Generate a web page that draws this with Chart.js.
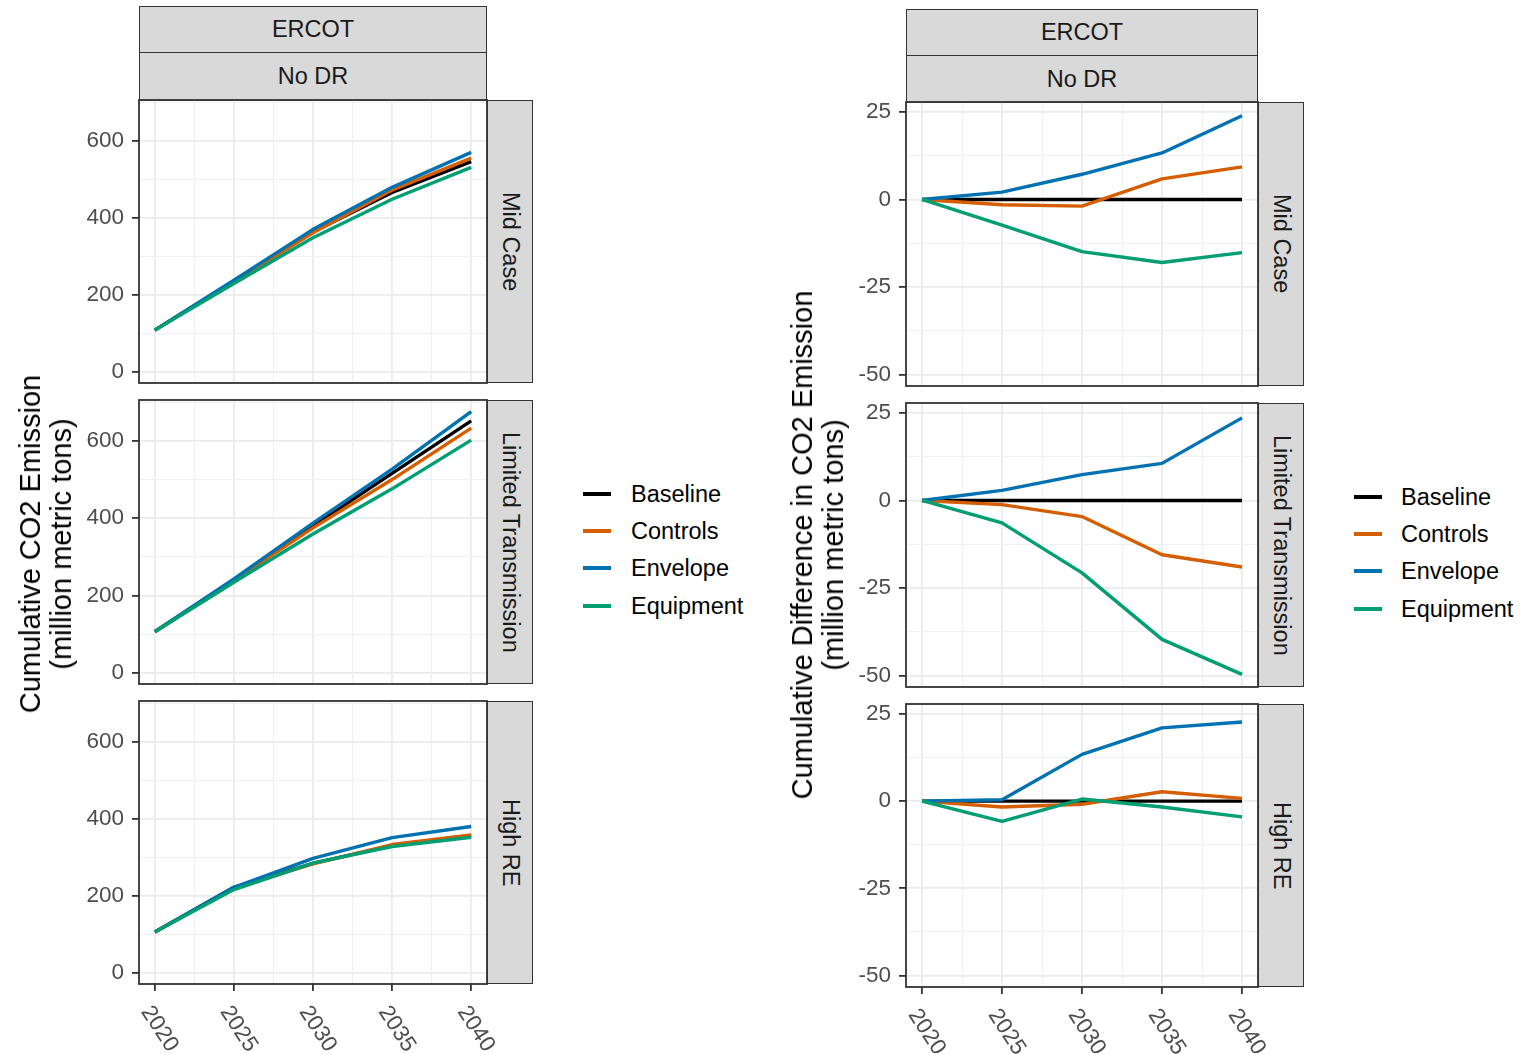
<!DOCTYPE html>
<html>
<head>
<meta charset="utf-8">
<script src="https://cdn.jsdelivr.net/npm/chart.js@4.4.1/dist/chart.umd.min.js"></script>
<style>
  body { margin: 0; background: #fff; font-family: "Liberation Sans", Arial, sans-serif; }
  #page { position: relative; width: 1529px; height: 1054px; overflow: hidden; background: #fff; }
  canvas { position: absolute; }
  .strip {
    position: absolute; box-sizing: border-box; background: #d9d9d9;
    border: 1.8px solid #333; color: #1a1a1a; font-size: 23.5px;
    display: flex; align-items: center; justify-content: center;
  }
  .strip.v span { writing-mode: vertical-rl; }
  .ytitle {
    position: absolute; transform: translate(-50%, -50%) rotate(-90deg);
    font-size: 29px; line-height: 31px; text-align: center; white-space: nowrap; color: #000;
  }
  .legend { position: absolute; font-size: 23.5px; color: #000; }
  .legend .key { position: absolute; width: 28px; height: 4px; }
  .legend .lab { position: absolute; transform: translateY(-50%); white-space: nowrap; }
</style>
</head>
<body>
<div id="page"></div>
<script>
const years = [2020, 2025, 2030, 2035, 2040];
const seriesNames = ["Baseline", "Controls", "Envelope", "Equipment"];
const seriesColors = ["#000000", "#D55E00", "#0072B2", "#009E73"];
const caseNames = ["Mid Case", "Limited Transmission", "High RE"];

// cumulative CO2 emission (million metric tons)
const midBaseline  = [108, 236, 363, 466, 546];
const midControls  = [108, 234, 361, 472, 555];
const midEnvelope  = [108, 238, 370, 479, 570];
const midEquipment = [108, 229, 348, 448, 531];

const ltBaseline  = [106, 240, 380, 516, 652];
const ltControls  = [106, 239, 375, 500, 633];
const ltEnvelope  = [106, 243, 387, 527, 676];
const ltEquipment = [106, 234, 359, 476, 602];

const reBaseline  = [106, 222, 284, 330, 357];
const reControls  = [106, 220, 283, 333, 358];
const reEnvelope  = [106, 222, 297, 351, 380];
const reEquipment = [106, 216, 285, 328, 352];

// cumulative difference from baseline (million metric tons)
const midDiffBaseline  = [0, 0, 0, 0, 0];
const midDiffControls  = [0, -1.5, -1.9, 5.9, 9.3];
const midDiffEnvelope  = [0, 2.1, 7.2, 13.3, 23.9];
const midDiffEquipment = [0, -7.3, -14.9, -18.0, -15.2];

const ltDiffBaseline  = [0, 0, 0, 0, 0];
const ltDiffControls  = [0, -1.2, -4.6, -15.5, -19.0];
const ltDiffEnvelope  = [0, 2.9, 7.4, 10.6, 23.6];
const ltDiffEquipment = [0, -6.4, -20.7, -39.7, -49.7];

const reDiffBaseline  = [0, 0, 0, 0, 0];
const reDiffControls  = [0, -1.7, -0.9, 2.7, 0.8];
const reDiffEnvelope  = [0, 0.4, 13.4, 21.0, 22.7];
const reDiffEquipment = [0, -5.8, 0.6, -1.7, -4.5];

// axis breaks
const xMajor = [2020, 2025, 2030, 2035, 2040];
const xMinor = [2022.5, 2027.5, 2032.5, 2037.5];
const xLabels = ["2020", "2025", "2030", "2035", "2040"];
const leftYMajor = [0, 200, 400, 600];
const leftYMinor = [100, 300, 500, 700];
const rightYMajor = [-50, -25, 0, 25];
const rightYMinor = [-37.5, -12.5, 12.5];

const FONT = '"Liberation Sans", Arial, sans-serif';
const page = document.getElementById("page");

function addDiv(cls, left, top, width, height, html) {
  const d = document.createElement("div");
  d.className = cls;
  d.style.left = left + "px";
  d.style.top = top + "px";
  if (width != null) d.style.width = width + "px";
  if (height != null) d.style.height = height + "px";
  d.innerHTML = html;
  page.appendChild(d);
  return d;
}

function buildTicks(major, minor) {
  return axis => {
    axis.ticks = major.concat(minor).sort((a, b) => a - b).map(v => ({ value: v }));
  };
}

// panel border on top of the lines, plus rotated year labels on the bottom row
const framePlugin = {
  id: "frame",
  afterDraw(chart, args, opts) {
    const { ctx, chartArea: a } = chart;
    ctx.save();
    ctx.strokeStyle = "#333333";
    ctx.lineWidth = 1.8;
    ctx.strokeRect(a.left, a.top, a.right - a.left, a.bottom - a.top);
    if (opts.showX) {
      const xs = chart.scales.x;
      ctx.fillStyle = "#4D4D4D";
      ctx.font = "22.5px " + FONT;
      ctx.textAlign = "left";
      ctx.textBaseline = "middle";
      xMajor.forEach((v, i) => {
        const px = xs.getPixelForValue(v);
        ctx.save();
        ctx.translate(px - 9, a.bottom + 24);
        ctx.rotate(57 * Math.PI / 180);
        ctx.fillText(xLabels[i], 0, 0);
        ctx.restore();
      });
    }
    ctx.restore();
  }
};

function makePanel(p) {
  const padTop = 30, padRight = 50, yAxisW = 90, tickLen = 7;
  const padBottom = p.showX ? 80 : 30;
  const w = p.right - p.left + yAxisW + padRight;
  const h = p.bottom - p.top + padTop + tickLen + padBottom;
  const canvas = document.createElement("canvas");
  canvas.width = w;
  canvas.height = h;
  canvas.style.left = (p.left - yAxisW) + "px";
  canvas.style.top = (p.top - padTop) + "px";
  canvas.style.width = w + "px";
  canvas.style.height = h + "px";
  page.appendChild(canvas);

  const yMajorSet = new Set(p.yMajor);
  const xMajorSet = new Set(xMajor);

  new Chart(canvas.getContext("2d"), {
    type: "line",
    data: {
      datasets: p.series.map((vals, i) => ({
        label: seriesNames[i],
        data: years.map((yr, j) => ({ x: yr, y: vals[j] })),
        borderColor: seriesColors[i],
        backgroundColor: seriesColors[i],
        borderWidth: 3.4,
        borderJoinStyle: "round",
        pointRadius: 0,
        tension: 0,
        order: seriesNames.length - 1 - i
      }))
    },
    options: {
      responsive: false,
      devicePixelRatio: 1,
      animation: false,
      layout: { padding: { left: 0, top: padTop, right: padRight, bottom: padBottom } },
      plugins: {
        legend: { display: false },
        tooltip: { enabled: false },
        frame: { showX: p.showX }
      },
      scales: {
        x: {
          type: "linear",
          min: 2019,
          max: 2041,
          afterBuildTicks: buildTicks(xMajor, xMinor),
          border: { display: false },
          ticks: { display: false },
          grid: {
            color: c => xMajorSet.has(c.tick.value) ? "#EBEBEB" : "#F0F0F0",
            lineWidth: c => xMajorSet.has(c.tick.value) ? 1.8 : 1,
            drawTicks: true,
            tickLength: tickLen,
            tickWidth: 1.8,
            tickColor: c => (p.showX && xMajorSet.has(c.tick.value)) ? "#333333" : "rgba(0,0,0,0)"
          }
        },
        y: {
          type: "linear",
          min: p.yMin,
          max: p.yMax,
          afterBuildTicks: buildTicks(p.yMajor, p.yMinor),
          afterFit: s => { s.width = yAxisW; },
          border: { display: false },
          ticks: {
            autoSkip: false,
            padding: 8,
            color: "#4D4D4D",
            font: { family: FONT, size: 22.5 },
            callback: v => yMajorSet.has(v) ? String(v) : ""
          },
          grid: {
            color: c => yMajorSet.has(c.tick.value) ? "#EBEBEB" : "#F0F0F0",
            lineWidth: c => yMajorSet.has(c.tick.value) ? 1.8 : 1,
            drawTicks: true,
            tickLength: tickLen,
            tickWidth: 1.8,
            tickColor: c => yMajorSet.has(c.tick.value) ? "#333333" : "rgba(0,0,0,0)"
          }
        }
      }
    },
    plugins: [framePlugin]
  });

  addDiv("strip v", p.right, p.top, 46, p.bottom - p.top, "<span>" + p.caseName + "</span>");
}

function makeFacetColumn(cfg) {
  addDiv("strip", cfg.left, cfg.stripTop, cfg.right - cfg.left, cfg.stripMid - cfg.stripTop + 1.8, "<span>ERCOT</span>");
  addDiv("strip", cfg.left, cfg.stripMid, cfg.right - cfg.left, cfg.rows[0][0] - cfg.stripMid + 1, "<span>No DR</span>");
  cfg.rows.forEach((r, i) => {
    makePanel({
      left: cfg.left, right: cfg.right, top: r[0], bottom: r[1],
      series: cfg.series[i], caseName: caseNames[i],
      yMin: cfg.yMin, yMax: cfg.yMax, yMajor: cfg.yMajor, yMinor: cfg.yMinor,
      showX: i === cfg.rows.length - 1
    });
  });
  addDiv("ytitle", cfg.titleX, cfg.titleY, null, null, cfg.title.join("<br>"));
  const lg = addDiv("legend", cfg.legendX, cfg.legendY, 200, 160, "");
  seriesNames.forEach((name, i) => {
    const y = i * 37.2;
    lg.innerHTML += '<div class="key" style="left:0;top:' + (y - 2) + 'px;background:' + seriesColors[i] + '"></div>' +
      '<div class="lab" style="left:' + cfg.legendTextDx + 'px;top:' + y + 'px">' + name + '</div>';
  });
}

makeFacetColumn({
  left: 139, right: 487, stripTop: 6, stripMid: 52,
  rows: [[100, 383], [400, 684], [701, 984]],
  series: [
    [midBaseline, midControls, midEnvelope, midEquipment],
    [ltBaseline, ltControls, ltEnvelope, ltEquipment],
    [reBaseline, reControls, reEnvelope, reEquipment]
  ],
  yMin: -29.3, yMax: 706, yMajor: leftYMajor, yMinor: leftYMinor,
  title: ["Cumulative CO2 Emission", "(million metric tons)"],
  titleX: 46, titleY: 544,
  legendX: 583, legendY: 494, legendTextDx: 48
});

makeFacetColumn({
  left: 906, right: 1258, stripTop: 9, stripMid: 55,
  rows: [[102, 386], [403, 687], [704, 987]],
  series: [
    [midDiffBaseline, midDiffControls, midDiffEnvelope, midDiffEquipment],
    [ltDiffBaseline, ltDiffControls, ltDiffEnvelope, ltDiffEquipment],
    [reDiffBaseline, reDiffControls, reDiffEnvelope, reDiffEquipment]
  ],
  yMin: -53.3, yMax: 27.85, yMajor: rightYMajor, yMinor: rightYMinor,
  title: ["Cumulative Difference in CO2 Emission", "(million metric tons)"],
  titleX: 818, titleY: 545,
  legendX: 1354, legendY: 497, legendTextDx: 47
});
</script>
</body>
</html>
